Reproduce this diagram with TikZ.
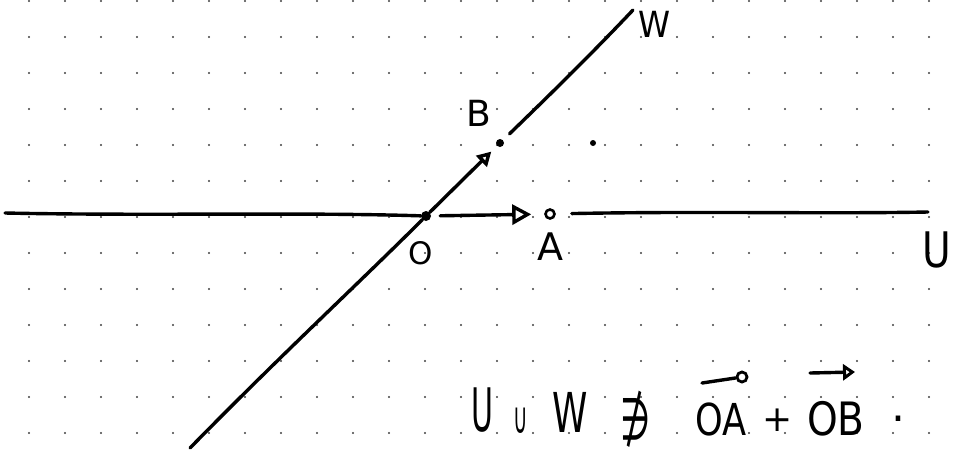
\documentclass[tikz,border=0pt]{standalone}
\usepackage{fontspec}
\usepackage{graphicx}
\setmainfont{DejaVu Sans}
\usetikzlibrary{arrows.meta}
\begin{document}
\begin{tikzpicture}[x=1pt,y=-1pt,
  hand/.style={line width=3.4pt, line cap=round, line join=round},
  griddot/.style={fill=black!75, draw=none},
  txt/.style={inner sep=0pt, outer sep=0pt},
  filledpt/.style={circle, fill=black, inner sep=0pt, minimum size=#1},
  openpt/.style={circle, draw=black, line width=2.6pt, fill=white, inner sep=0pt, minimum size=#1},
  bigtip/.style={-{Triangle[open,length=19pt,width=20pt]}},
  smalltip/.style={-{Triangle[open,length=14pt,width=15pt]}}]
\useasboundingbox (0,0) rectangle (955,459);
% dotted grid
\foreach \i in {0,...,25}
  \foreach \j in {0,...,12}
    \fill[griddot] (29+36*\i, 1+36*\j) circle (1.1pt);

% points
\node[filledpt=10pt] (O) at (426,216) {};
\node[openpt=9pt] (A) at (550,214) {};
\node[filledpt=8pt] (B) at (500,143) {};
\node[filledpt=6pt] (P) at (593,143) {};

% line ends
\coordinate (Uleft) at (5,213);
\coordinate (Uright) at (928,212);
\coordinate (Wlow) at (190,448);
\coordinate (Whigh) at (633,10);

% line U
\draw[hand] (Uleft) .. controls (150,216) and (300,212) .. (O);
\draw[hand,bigtip,shorten <=9pt,shorten >=13pt] (O) -- (A);
\draw[hand,shorten <=16pt] (A) .. controls (700,211) and (820,214) .. (Uright);

% line W
\draw[hand] (Wlow) .. controls (280,356) and (360,282) .. (O);
\draw[hand,smalltip,shorten >=8pt] (O) -- (B);
\draw[hand,shorten <=9pt] (B) .. controls (560,85) and (600,45) .. (Whigh);

% labels
\node[txt,font=\fontsize{31}{31}\selectfont] (labO) at (421,253) {O};
\node[txt,font=\fontsize{38}{38}\selectfont] (labA) at (550,247) {A};
\node[txt,font=\fontsize{36}{36}\selectfont] (labB) at (479,113) {B};
\node[txt,font=\fontsize{36}{36}\selectfont] (labW) at (655,24) {\scalebox{0.9}[1]{W}};
\node[txt,font=\fontsize{49}{49}\selectfont] (labU) at (937,250) {\scalebox{0.8}[1]{U}};

% bottom formula
\node[txt,font=\fontsize{60}{60}\selectfont] (fU) at (482,410) {\scalebox{0.5}[1]{U}};
\node[txt,font=\fontsize{44}{44}\selectfont] (fcup) at (521,421) {\scalebox{0.45}[1]{∪}};
\node[txt,font=\fontsize{55}{55}\selectfont] (fW) at (570,412) {\scalebox{0.65}[1]{W}};
\node[txt,font=\fontsize{58}{58}\selectfont] (fni) at (636,419) {\scalebox{0.6}[1]{∌}};
\node[txt,font=\fontsize{44}{44}\selectfont] (fOA) at (721,419) {\scalebox{0.8}[1]{OA}};
\node[txt,font=\fontsize{36}{36}\selectfont] (fplus) at (778,420) {+};
\node[txt,font=\fontsize{46}{46}\selectfont] (fOB) at (836,419) {\scalebox{0.85}[1]{OB}};
\node[txt,font=\fontsize{44}{44}\selectfont] (fdot) at (898,419) {.};

% over-arrows
\coordinate (oaS) at (702,383);
\node[circle,draw=black,line width=2.8pt,inner sep=0pt,minimum size=10pt] (oaT) at (742,377) {};
\draw[hand] (oaS) -- (oaT);
\coordinate (obS) at (810,373);
\coordinate (obT) at (855,372);
\draw[hand,-{Triangle[open,length=12pt,width=16pt]}] (obS) -- (obT);
\end{tikzpicture}
\end{document}
